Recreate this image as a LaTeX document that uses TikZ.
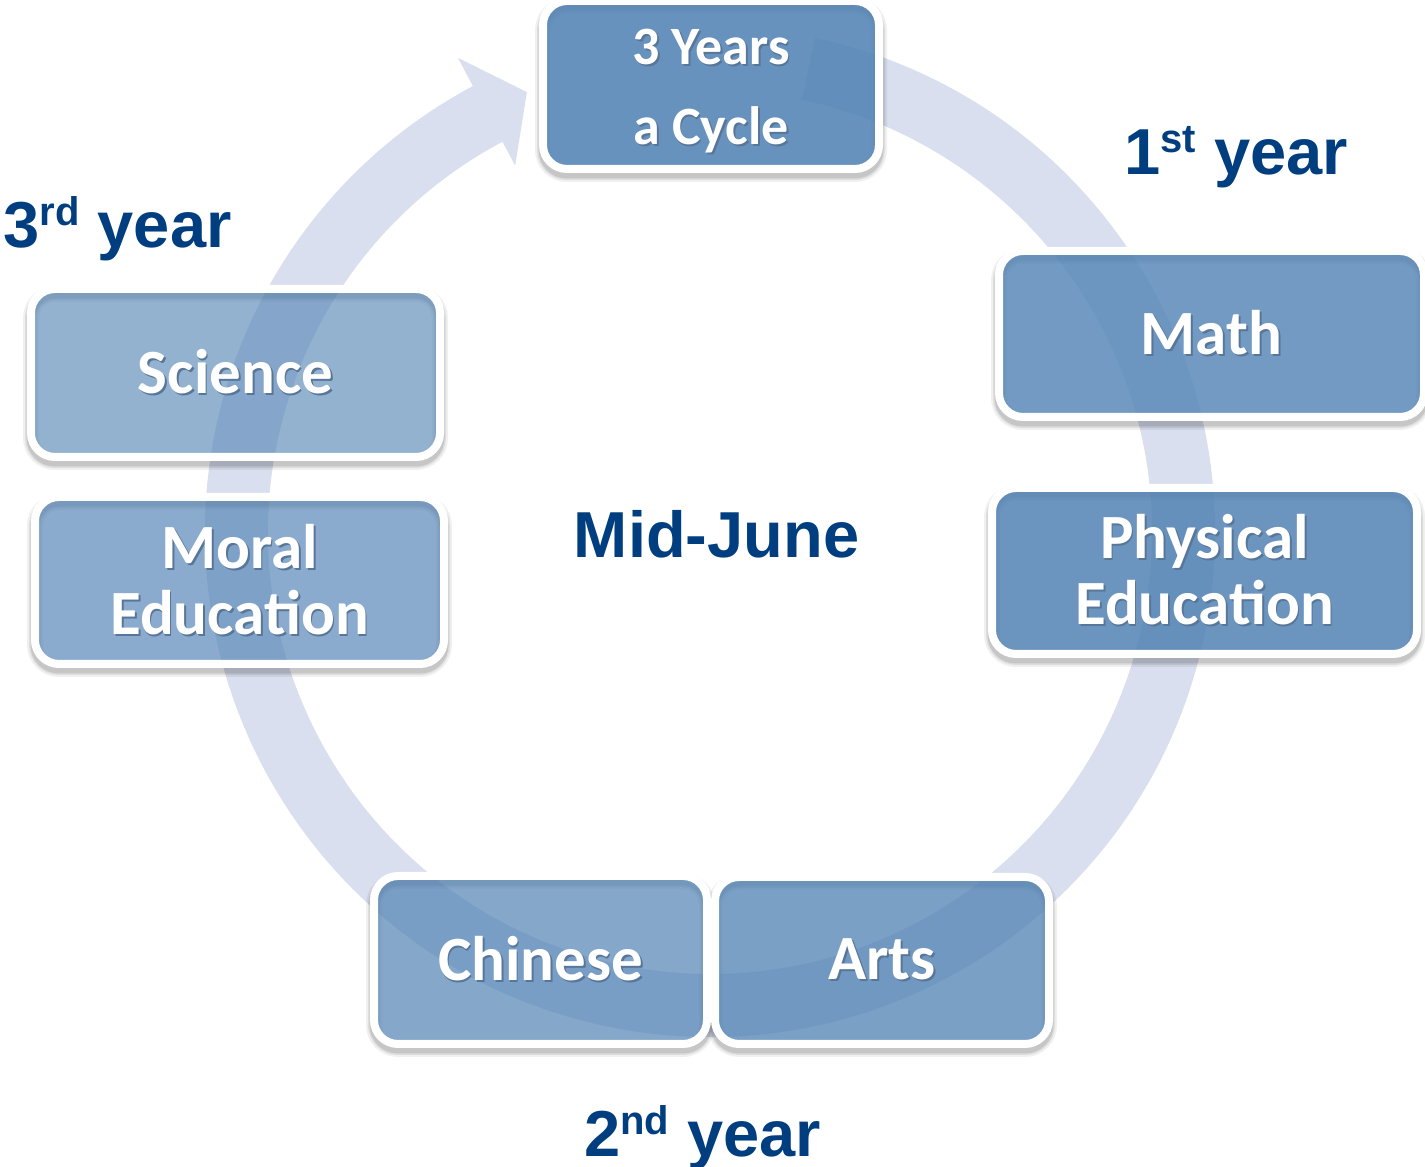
\documentclass[tikz,border=0pt]{standalone}
\usepackage{fontspec}
\setmainfont{Liberation Sans}
\newfontfamily\calibri{Carlito}
\usetikzlibrary{calc}
\definecolor{ringfill}{RGB}{217,223,238}
\definecolor{boxblue}{RGB}{86,134,182}
\definecolor{labelblue}{RGB}{0,62,128}
\definecolor{glyphshade}{RGB}{88,118,152}
\pgfdeclarelayer{ringlayer}
\pgfdeclarelayer{shadelayer}
\pgfsetlayers{ringlayer,shadelayer,main}
% white lettering with a faint offset shade behind it
\newcommand\shtext[1]{\leavevmode\rlap{\kern0.9pt\raisebox{-0.9pt}{\textcolor{glyphshade}{#1}}}#1}
\newcommand\supr[1]{\raisebox{11pt}{\fontsize{20pt}{20pt}\selectfont #1}}

\begin{document}
\begin{tikzpicture}[x=0.5pt,y=0.5pt,
  subject/.style={draw=white, line width=4pt, rounded corners=12pt,
    fill=boxblue, text=white, text opacity=1, inner sep=0pt, outer sep=0pt,
    align=center, font=\calibri\bfseries\fontsize{31.5pt}{33pt}\selectfont},
  yearlabel/.style={text=labelblue, inner sep=0pt,
    font=\bfseries\fontsize{32.5pt}{36pt}\selectfont}]

\useasboundingbox (0,0) rectangle (1425,1167);
\coordinate (c) at (710,635);

% circular arrow running clockwise back to the top
\begin{pgfonlayer}{ringlayer}
\fill[ringfill] ($(c)+(78:505)$) arc[start angle=78, end angle=-242, radius=505]
  -- ($(c)+(118:537)$) -- ($(c)+(112.6:476.5)$) -- ($(c)+(118:415)$)
  -- ($(c)+(118:442)$) arc[start angle=118, end angle=438, radius=442] -- cycle;
\end{pgfonlayer}

% subject boxes
\node[subject, fill opacity=.9, minimum width=168pt, minimum height=84pt,
  font=\calibri\bfseries\fontsize{27pt}{40pt}\selectfont] (hub) at (711,1082)
  {\rule{0pt}{24.5pt}\shtext{3 Years}\\\shtext{a Cycle}};
\node[subject, fill opacity=.83, minimum width=212.5pt, minimum height=83pt] (math) at (1211.5,833) {\shtext{Math}};
\node[subject, fill opacity=.88, minimum width=212.5pt, minimum height=83pt] (pe) at (1204.5,596) {\shtext{Physical}\\\shtext{Education}};
\node[subject, fill opacity=.64, minimum width=204.5pt, minimum height=84pt] (science) at (235.5,794) {\shtext{Science}};
\node[subject, fill opacity=.69, minimum width=204.5pt, minimum height=83.5pt] (moral) at (239.5,586.5) {\shtext{Moral}\\\shtext{Education}};
\node[subject, fill opacity=.73, minimum width=166.5pt, minimum height=84pt] (chinese) at (540.5,207) {\shtext{Chinese}};
\node[subject, fill opacity=.79, minimum width=167pt, minimum height=83.5pt] (arts) at (882,206.5) {\shtext{Arts}};

% soft drop shadows under the boxes
\begin{pgfonlayer}{shadelayer}
\foreach \b in {hub,math,pe,science,moral,chinese,arts}{
  \foreach \w/\o in {8pt/.06,6pt/.08,4.5pt/.1}{
    \draw[line width=\w, black, opacity=\o, rounded corners=12pt]
      ([yshift=-2.5pt]\b.south west) rectangle ([yshift=-2.5pt]\b.north east);
  }
}
\end{pgfonlayer}

% year labels and centre text
\node[yearlabel, anchor=base] (y1) at (1236,992) {1\supr{st} year};
\node[yearlabel, anchor=base] (y2) at (702.5,10) {2\supr{nd} year};
\node[yearlabel, anchor=base] (y3) at (117.5,919) {3\supr{rd} year};
\node[yearlabel, anchor=base] (mid) at (716.5,609) {Mid-June};
\end{tikzpicture}
\end{document}
